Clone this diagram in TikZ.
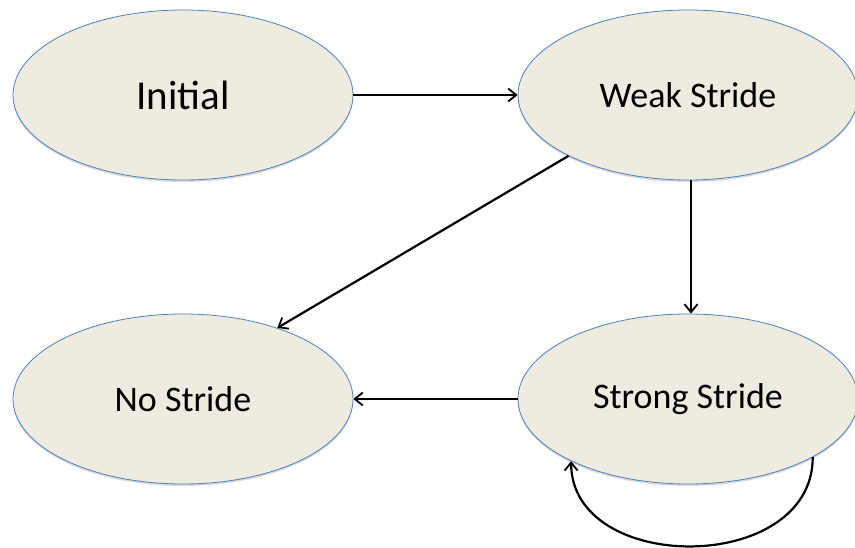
\documentclass[tikz,border=0pt]{standalone}
\usepackage{fontspec}
\setmainfont{Carlito}
\usetikzlibrary{shapes.geometric,arrows.meta,shadows}
\definecolor{statefill}{RGB}{238,236,225}
\definecolor{stateline}{RGB}{79,129,189}
\tikzset{
  state/.style={ellipse, draw=stateline, line width=0.8pt, fill=statefill,
    minimum width=340pt, minimum height=170pt, inner sep=0pt,
    drop shadow={shadow xshift=0pt, shadow yshift=-2pt, opacity=0.25, fill=black!60},
    font=\fontsize{36}{40}\selectfont},
  conn/.style={line width=2.2pt, black, -{Straight Barb[length=8pt,width=13pt,line width=1.8pt]}}
}
\begin{document}
\begin{tikzpicture}[x=1pt,y=-1pt]
\useasboundingbox (0,0) rectangle (855,548);
\node[state] (init) at (183,95) {\raisebox{-3pt}{\fontsize{41}{44}\selectfont Initial}};
\node[state] (weak) at (688,95) {\raisebox{-3pt}{Weak Stride}};
\node[state] (nostr) at (183,399) {\raisebox{-3pt}{No Stride}};
\node[state] (strong) at (688,399) {\raisebox{-4pt}{Strong Stride}};
\draw[conn] (init.east) -- (weak.west);
\draw[conn] (weak.207) -- (nostr.37.6);
\draw[conn] ([xshift=3pt]weak.south) -- ([xshift=3pt]strong.north);
\draw[conn] (strong.west) -- (nostr.east);
\draw[conn] (strong.-25) .. controls +(0,118) and +(0,114) .. (strong.208.5);
\end{tikzpicture}
\end{document}
